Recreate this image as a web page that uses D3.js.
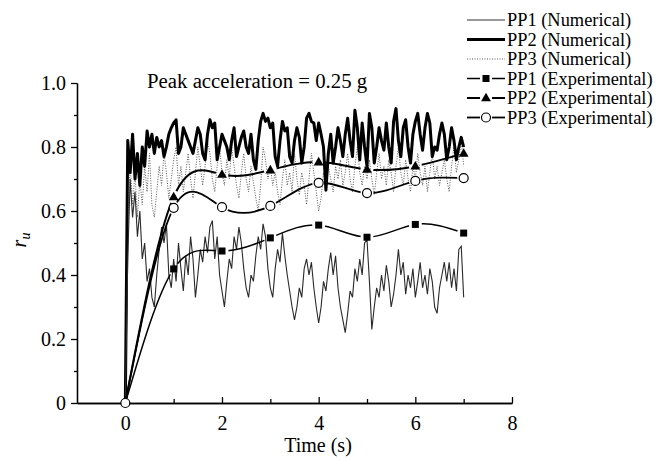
<!DOCTYPE html>
<html>
<head>
<meta charset="utf-8">
<script src="https://cdn.jsdelivr.net/npm/d3@7"></script>
<style>
  body { margin: 0; background: #fff; }
  text { font-family: "Liberation Serif", "Times New Roman", serif; fill: #000; }
</style>
</head>
<body>
<div id="chart"></div>
<script>
// numerical output, sampled every 0.05 s from 0 to 7 s
var step = 0.05;
var pp1Num = [
  0, 0.45, 0.70, 0.58, 0.66, 0.52, 0.60, 0.45, 0.50, 0.38,
  0.42, 0.33, 0.30, 0.40, 0.48, 0.55, 0.50, 0.56, 0.40, 0.36,
  0.45, 0.38, 0.50, 0.42, 0.35, 0.46, 0.40, 0.52, 0.45, 0.33,
  0.40, 0.48, 0.44, 0.52, 0.47, 0.55, 0.57, 0.45, 0.52, 0.40,
  0.35, 0.30, 0.38, 0.45, 0.42, 0.52, 0.48, 0.55, 0.50, 0.42,
  0.36, 0.33, 0.40, 0.38, 0.46, 0.52, 0.48, 0.56, 0.52, 0.42,
  0.36, 0.33, 0.42, 0.48, 0.44, 0.53, 0.46, 0.40, 0.35, 0.30,
  0.26, 0.30, 0.36, 0.33, 0.42, 0.45, 0.40, 0.44, 0.36, 0.30,
  0.25, 0.30, 0.38, 0.35, 0.42, 0.47, 0.40, 0.46, 0.36, 0.30,
  0.26, 0.22, 0.28, 0.35, 0.33, 0.42, 0.38, 0.45, 0.40, 0.50,
  0.51, 0.38, 0.23, 0.30, 0.36, 0.33, 0.40, 0.35, 0.43, 0.38,
  0.30, 0.34, 0.40, 0.48, 0.40, 0.44, 0.34, 0.40, 0.36, 0.42,
  0.33, 0.38, 0.44, 0.36, 0.40, 0.34, 0.42, 0.38, 0.30, 0.28,
  0.36, 0.40, 0.44, 0.38, 0.44, 0.36, 0.42, 0.35, 0.48, 0.49,
  0.33
];
var pp2Num = [
  0, 0.82, 0.72, 0.84, 0.70, 0.78, 0.68, 0.80, 0.74, 0.85,
  0.80, 0.84, 0.78, 0.83, 0.80, 0.82, 0.77, 0.80, 0.84, 0.86,
  0.875, 0.885, 0.78, 0.80, 0.86, 0.84, 0.82, 0.80, 0.78, 0.82,
  0.86, 0.84, 0.78, 0.76, 0.84, 0.885, 0.86, 0.875, 0.76, 0.80,
  0.84, 0.82, 0.80, 0.76, 0.82, 0.86, 0.77, 0.80, 0.83, 0.85,
  0.80, 0.78, 0.84, 0.76, 0.73, 0.82, 0.88, 0.905, 0.88, 0.89,
  0.86, 0.875, 0.77, 0.74, 0.82, 0.88, 0.85, 0.86, 0.77, 0.75,
  0.82, 0.86, 0.83, 0.75, 0.80, 0.89, 0.905, 0.88, 0.875, 0.82,
  0.875, 0.84, 0.80, 0.665, 0.78, 0.84, 0.75, 0.80, 0.86, 0.82,
  0.77, 0.84, 0.89, 0.82, 0.77, 0.915, 0.86, 0.76, 0.875, 0.80,
  0.74, 0.905, 0.86, 0.75, 0.80, 0.86, 0.82, 0.79, 0.875, 0.80,
  0.75, 0.88, 0.92, 0.82, 0.77, 0.86, 0.885, 0.80, 0.75, 0.84,
  0.88, 0.905, 0.84, 0.79, 0.86, 0.905, 0.875, 0.77, 0.80, 0.79,
  0.84, 0.875, 0.84, 0.76, 0.80, 0.86, 0.82, 0.76, 0.80, 0.83,
  0.80
];
var pp3Num = [
  0, 0.55, 0.75, 0.62, 0.72, 0.58, 0.70, 0.62, 0.74, 0.66,
  0.78, 0.62, 0.58, 0.66, 0.74, 0.68, 0.78, 0.72, 0.64, 0.70,
  0.76, 0.80, 0.68, 0.74, 0.66, 0.72, 0.78, 0.70, 0.64, 0.72,
  0.80, 0.74, 0.68, 0.74, 0.82, 0.78, 0.70, 0.66, 0.74, 0.80,
  0.72, 0.68, 0.76, 0.70, 0.80, 0.74, 0.68, 0.64, 0.72, 0.78,
  0.70, 0.66, 0.74, 0.69, 0.64, 0.60, 0.68, 0.80, 0.76, 0.70,
  0.74, 0.68, 0.72, 0.66, 0.62, 0.70, 0.76, 0.68, 0.72, 0.66,
  0.78, 0.70, 0.65, 0.72, 0.68, 0.62, 0.70, 0.78, 0.72, 0.66,
  0.60, 0.64, 0.72, 0.68, 0.74, 0.70, 0.66, 0.74, 0.70, 0.76,
  0.68, 0.72, 0.78, 0.70, 0.66, 0.74, 0.80, 0.72, 0.68, 0.74,
  0.70, 0.76, 0.70, 0.65, 0.72, 0.78, 0.70, 0.74, 0.68, 0.76,
  0.72, 0.66, 0.74, 0.80, 0.72, 0.68, 0.76, 0.70, 0.66, 0.74,
  0.70, 0.78, 0.72, 0.68, 0.74, 0.66, 0.72, 0.78, 0.70, 0.74,
  0.68, 0.72, 0.76, 0.70, 0.66, 0.74, 0.80, 0.72, 0.76, 0.82,
  0.74
];

// experimental readings, one per second
var expTime = [0, 1, 2, 3, 4, 5, 6, 7];
var pp1Exp = [0, 0.419, 0.475, 0.516, 0.556, 0.518, 0.558, 0.531];
var pp2Exp = [0, 0.644, 0.714, 0.728, 0.753, 0.730, 0.740, 0.780];
var pp3Exp = [0, 0.610, 0.612, 0.616, 0.688, 0.656, 0.694, 0.703];

var xTicks = [0, 2, 4, 6, 8];
var xMinor = [1, 3, 5, 7];
var yTicks = [0, 0.2, 0.4, 0.6, 0.8, 1.0];
var yMinor = [0.1, 0.3, 0.5, 0.7, 0.9];

var legendLabels = ["PP1 (Numerical)", "PP2 (Numerical)", "PP3 (Numerical)",
  "PP1 (Experimental)", "PP2 (Experimental)", "PP3 (Experimental)"];

var width = 667, height = 460;

var svg = d3.select("#chart").append("svg")
  .attr("width", width)
  .attr("height", height);

var x = d3.scaleLinear().domain([-1, 8]).range([77, 512]);
var y = d3.scaleLinear().domain([0, 1]).range([403, 83]);

// axes
svg.append("g").attr("transform", "translate(77,0)")
  .call(d3.axisLeft(y).tickValues(yTicks).tickSize(6).tickSizeOuter(0).tickPadding(5)
    .tickFormat(d => d === 0 ? "0" : d3.format(".1f")(d)));
svg.append("g").attr("transform", "translate(77,0)")
  .call(d3.axisLeft(y).tickValues(yMinor).tickSize(3).tickSizeOuter(0).tickFormat(""));

svg.append("g").attr("transform", "translate(0,403)")
  .call(d3.axisBottom(x).tickValues(xTicks).tickSize(-6).tickSizeOuter(0).tickPadding(13));
svg.append("g").attr("transform", "translate(0,403)")
  .call(d3.axisBottom(x).tickValues(xMinor).tickSize(-4).tickSizeOuter(0).tickFormat(""));

svg.selectAll(".domain, .tick line").attr("stroke", "#000").attr("stroke-width", 1.3);
svg.selectAll(".tick text")
  .attr("font-family", "Liberation Serif, serif")
  .attr("font-size", 20);

svg.append("text")
  .attr("x", 318).attr("y", 452)
  .attr("text-anchor", "middle")
  .attr("font-size", 20)
  .text("Time (s)");

var yl = svg.append("text")
  .attr("transform", "translate(26,240) rotate(-90)")
  .attr("text-anchor", "middle")
  .attr("font-size", 20)
  .attr("font-style", "italic");
yl.append("tspan").text("r");
yl.append("tspan").attr("font-size", 14).attr("dy", 4).text("u");

svg.append("text")
  .attr("x", 147).attr("y", 88)
  .attr("font-size", 20.8)
  .text("Peak acceleration = 0.25 g");

// numerical lines
var numLine = d3.line()
  .x((d, i) => x(i * step))
  .y(d => y(d));

svg.append("path").datum(pp3Num)
  .attr("d", numLine).attr("fill", "none")
  .attr("stroke", "#555").attr("stroke-width", 1)
  .attr("stroke-dasharray", "1,1.5");

svg.append("path").datum(pp2Num)
  .attr("d", numLine).attr("fill", "none")
  .attr("stroke", "#000").attr("stroke-width", 3)
  .attr("stroke-linejoin", "round");

svg.append("path").datum(pp1Num)
  .attr("d", numLine).attr("fill", "none")
  .attr("stroke", "#2a2a2a").attr("stroke-width", 1.1);

// experimental curves, broken around each marker
var expLine = d3.line().curve(d3.curveNatural)
  .x((d, i) => x(expTime[i]))
  .y(d => y(d));

var defs = svg.append("defs");
var expSeries = [
  { id: "pp1", values: pp1Exp, width: 1.5, shape: "square" },
  { id: "pp2", values: pp2Exp, width: 2, shape: "triangle" },
  { id: "pp3", values: pp3Exp, width: 1.8, shape: "circle" }
];

expSeries.forEach(s => {
  var mask = defs.append("mask").attr("id", "gap-" + s.id)
    .attr("maskUnits", "userSpaceOnUse")
    .attr("x", 0).attr("y", 0).attr("width", width).attr("height", height);
  mask.append("rect").attr("width", width).attr("height", height).attr("fill", "#fff");
  mask.selectAll("circle").data(s.values.slice(1)).enter().append("circle")
    .attr("cx", (d, i) => x(expTime[i + 1]))
    .attr("cy", d => y(d))
    .attr("r", 6.5)
    .attr("fill", "#000");

  svg.append("path").datum(s.values)
    .attr("d", expLine).attr("fill", "none")
    .attr("stroke", "#000").attr("stroke-width", s.width)
    .attr("mask", "url(#gap-" + s.id + ")");
});

function drawMarker(g, shape, cx, cy) {
  if (shape === "square") {
    g.append("rect").attr("x", cx - 3.5).attr("y", cy - 3.5)
      .attr("width", 7).attr("height", 7).attr("fill", "#000");
  } else if (shape === "triangle") {
    g.append("path").attr("d", d3.symbol(d3.symbolTriangle, 42)())
      .attr("transform", `translate(${cx},${cy + 0.5})`).attr("fill", "#000");
  } else {
    g.append("circle").attr("cx", cx).attr("cy", cy).attr("r", 4.5)
      .attr("fill", "#fff").attr("stroke", "#000").attr("stroke-width", 1.2);
  }
}

var markers = svg.append("g");
expSeries.forEach(s => {
  s.values.forEach((v, i) => {
    if (i === 0 && s.shape !== "circle") return;
    drawMarker(markers, s.shape, x(expTime[i]), y(v));
  });
});

// legend
var legend = svg.append("g");
var rowY = d3.range(legendLabels.length).map(i => 20 + i * 19.5);
var numStyles = [
  { stroke: "#333", width: 1, dash: null },
  { stroke: "#000", width: 3, dash: null },
  { stroke: "#555", width: 1, dash: "1,1.5" }
];

legendLabels.forEach((lab, i) => {
  var yy = rowY[i];
  if (i < 3) {
    legend.append("line").attr("x1", 467).attr("x2", 505)
      .attr("y1", yy).attr("y2", yy)
      .attr("stroke", numStyles[i].stroke)
      .attr("stroke-width", numStyles[i].width)
      .attr("stroke-dasharray", numStyles[i].dash);
  } else {
    var s = expSeries[i - 3];
    legend.append("line").attr("x1", 467).attr("x2", 480)
      .attr("y1", yy).attr("y2", yy).attr("stroke", "#000").attr("stroke-width", s.width);
    legend.append("line").attr("x1", 492).attr("x2", 505)
      .attr("y1", yy).attr("y2", yy).attr("stroke", "#000").attr("stroke-width", s.width);
    drawMarker(legend, s.shape, 486, yy);
  }
  legend.append("text").attr("x", 507).attr("y", yy).attr("dy", "0.35em")
    .attr("font-size", 18.4).text(lab);
});
</script>
</body>
</html>
